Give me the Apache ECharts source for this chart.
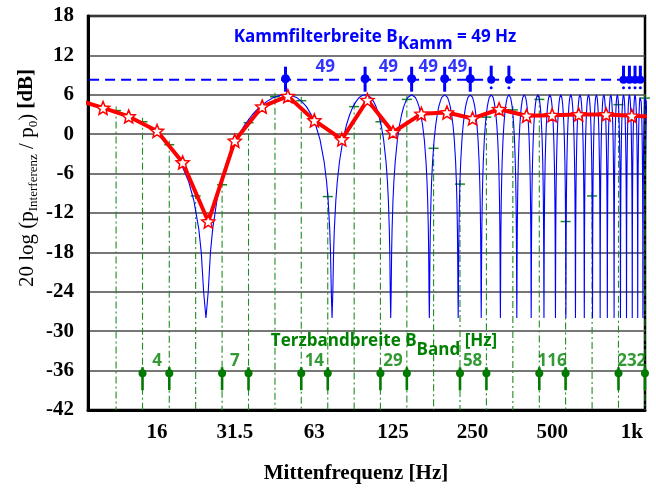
<!DOCTYPE html>
<html><head><meta charset="utf-8">
<script src="https://cdn.jsdelivr.net/npm/echarts@6/dist/echarts.min.js"></script>
<style>html,body{margin:0;padding:0;background:#fff}#c{width:656px;height:488px}</style>
</head><body><div id="c"></div>
<script>
// ---------- data ----------
const tickFreqsHz = [16, 31.5, 63, 125, 250, 500, 1000];
const tickLabels = ['16', '31.5', '63', '125', '250', '500', '1k'];

// third-octave band mean level (red line, stars); outer points continue past the plot edges
const terzCentersHz = [8, 10, 12.5, 16, 20, 25, 31.5, 40, 50, 63, 80, 100, 125, 160, 200, 250, 315, 400, 500, 630, 800, 1000, 1250];
const terzMeanDb   = [5.2, 4.0, 2.7, 0.5, -4.3, -13.3, -1.0, 4.2, 5.8, 2.1, -0.8, 5.2, 0.3, 3.1, 3.3, 2.4, 3.8, 2.8, 2.9, 3.0, 3.0, 2.8, 2.6];

// comb filter (blue): peaks every 49 Hz, lobe profile
const combPeaksHz = [0, 49, 98, 147, 196, 245, 294, 343, 392, 441, 490, 539, 588, 637, 686, 735, 784, 833, 882, 931, 980, 1029, 1078, 1127];
const combSpacingHz = 49;
const lobeOffset = [-0.5, -0.49, -0.48, -0.47, -0.45, -0.43, -0.4, -0.35, -0.3, -0.25, -0.2, -0.15, -0.1, -0.05, 0,
                    0.05, 0.1, 0.15, 0.2, 0.25, 0.3, 0.35, 0.4, 0.43, 0.45, 0.47, 0.48, 0.49, 0.5];
const lobeDb     = [-28, -24, -18, -14.5, -10.1, -7.2, -4.2, -0.8, 1.4, 3.0, 4.2, 5.0, 5.6, 5.9, 6.0,
                    5.9, 5.6, 5.0, 4.2, 3.0, 1.4, -0.8, -4.2, -7.2, -10.1, -14.5, -18, -24, -28];

// third-octave band edges (green dash-dot stems) and comb level at each edge
const terzEdgesHz = [11.2, 14.1, 17.8, 22.4, 28.2, 35.5, 44.7, 56.2, 70.8, 89.1, 112, 141, 178, 224, 282, 355, 447, 562, 708, 891, 1122];
const edgeCombDb  = [3.6, 1.9, -1.6, -9.4, -7.7, 1.75, 5.7, 5.1, -9.5, 4.2, 1.9, 5.3, -2.15, -7.6, 2.6, 3.7, 5.3, -13.3, -9.4, 4.5, 5.5];

// octave bands with bandwidth markers
const bandEdgesLoHz = [14.1, 28.2, 56.2, 112, 224, 447, 891];
const bandEdgesHiHz = [17.8, 35.5, 70.8, 141, 282, 562, 1122];
const bandCentersHz = [16, 31.5, 63, 125, 250, 500, 1000];
const bandWidthLabels = ['4', '7', '14', '29', '58', '116', '232'];
const bandMarkerDb = -36.4;
const bandLabelDb = -34.5;

// comb peak markers on the dashed line
const combLevelDb = 8.3;
const combLineHz = [7.7, 1225];
const combMarkersA = [49, 98, 147, 196, 245];
const combMarkersB = [294, 343, 931, 980, 1029, 1078];
const combLabelDb = 10.2;
const combLabelText = '49';

// ---------- helpers ----------
const toX = f => 3 * Math.log2(f / 1000);
const Y_MIN = -42, Y_MAX = 18;

const combData = [];
combPeaksHz.forEach(p => {
  lobeOffset.forEach((o, i) => {
    const f = p + o * combSpacingHz;
    if (f > 0) combData.push([toX(f), lobeDb[i]]);
  });
});
const redData = terzCentersHz.map((f, i) => [toX(f), terzMeanDb[i]]);
const stemData = terzEdgesHz.map((f, i) => [toX(f), edgeCombDb[i]]);
const bandMarkData = [];
bandEdgesLoHz.forEach((f, i) => { bandMarkData.push([toX(f), bandMarkerDb]); bandMarkData.push([toX(bandEdgesHiHz[i]), bandMarkerDb]); });
const bandLabelData = bandCentersHz.map((f, i) => ({ value: [toX(f), bandLabelDb], name: bandWidthLabels[i] }));
const combLabelData = [];
for (let i = 0; i < combMarkersA.length - 1; i++) {
  combLabelData.push({ value: [toX(Math.sqrt(combMarkersA[i] * combMarkersA[i + 1])), combLabelDb], name: combLabelText });
}

const STAR = 'path://M10 0 L12.65 6.36 L19.51 6.91 L14.28 11.39 L15.88 18.09 L10 14.5 L4.12 18.09 L5.72 11.39 L0.49 6.91 L7.35 6.36 Z';
const BLUE = '#0000ff', GREEN = '#008000', STEM = '#228b22';
const SERIF = 'Liberation Serif', SANS = 'Open Sans';

const chart = echarts.init(document.getElementById('c'), null, { renderer: 'canvas' });
chart.setOption({
  animation: false,
  backgroundColor: '#fff',
  grid: { left: 88, right: 11, top: 16, bottom: 78, show: true, borderColor: '#000', borderWidth: 2.5, backgroundColor: 'transparent' },
  xAxis: {
    type: 'value', min: -20.5, max: 0.5,
    axisLine: { show: true, onZero: false, lineStyle: { color: '#000', width: 3 } },
    axisTick: { show: false },
    splitLine: { show: false },
    axisLabel: {
      customValues: tickFreqsHz.map(toX),
      margin: 12, color: '#000', fontFamily: SERIF, fontWeight: 'bold', fontSize: 21,
      formatter: v => {
        let best = 0, bd = 1e9;
        tickFreqsHz.forEach((f, i) => { const d = Math.abs(toX(f) - v); if (d < bd) { bd = d; best = i; } });
        return tickLabels[best];
      }
    }
  },
  yAxis: {
    type: 'value', min: Y_MIN, max: Y_MAX, interval: 6,
    axisLine: { show: true, onZero: false, lineStyle: { color: '#000', width: 3 } },
    axisTick: { show: false },
    splitLine: { show: true, lineStyle: { color: '#4a4a4a', width: 1.5 } },
    axisLabel: { margin: 14, color: '#000', fontFamily: SERIF, fontWeight: 'bold', fontSize: 21 }
  },
  series: [
    { // green dash-dot stems with caps
      type: 'custom', z: 1, data: stemData,
      renderItem: (params, api) => {
        const top = api.coord([api.value(0), api.value(1)]);
        const bot = api.coord([api.value(0), Y_MIN]);
        return { type: 'group', children: [
          { type: 'line', shape: { x1: top[0], y1: top[1] - 4, x2: bot[0], y2: bot[1] }, style: { stroke: STEM, lineWidth: 1.1, lineDash: [7, 3, 2, 3] } },
          { type: 'line', shape: { x1: top[0] - 5, y1: top[1], x2: top[0] + 5, y2: top[1] }, style: { stroke: '#1a8a1a', lineWidth: 1.5 } }
        ] };
      }
    },
    { // comb filter curve
      type: 'line', z: 2, data: combData, showSymbol: false, clip: true,
      lineStyle: { color: BLUE, width: 1.1 }
    },
    { // third-octave mean
      type: 'line', z: 5, data: redData, clip: true,
      symbol: STAR, symbolSize: 13,
      lineStyle: { color: '#ff0000', width: 4 },
      itemStyle: { color: '#ffffff', borderColor: '#ff0000', borderWidth: 1.5 }
    },
    { // dashed comb level line
      type: 'line', z: 3, clip: false, showSymbol: false,
      data: combLineHz.map(f => [toX(f), combLevelDb]),
      lineStyle: { color: BLUE, width: 2, type: [10, 6] }
    },
    { // comb markers type A
      type: 'custom', z: 6, data: combMarkersA.map(f => [toX(f), combLevelDb]),
      renderItem: (params, api) => {
        const p = api.coord([api.value(0), api.value(1)]);
        return { type: 'group', children: [
          { type: 'rect', shape: { x: p[0] - 1.5, y: p[1] - 13, width: 3, height: 25 }, style: { fill: BLUE } },
          { type: 'circle', shape: { cx: p[0], cy: p[1] - 1, r: 4.5 }, style: { fill: BLUE } }
        ] };
      }
    },
    { // comb markers type B
      type: 'custom', z: 6, data: combMarkersB.map(f => [toX(f), combLevelDb]),
      renderItem: (params, api) => {
        const p = api.coord([api.value(0), api.value(1)]);
        return { type: 'group', children: [
          { type: 'rect', shape: { x: p[0] - 1.5, y: p[1] - 14, width: 3, height: 12 }, style: { fill: BLUE } },
          { type: 'circle', shape: { cx: p[0], cy: p[1], r: 4 }, style: { fill: BLUE } },
          { type: 'circle', shape: { cx: p[0], cy: p[1] + 8, r: 1.5 }, style: { fill: BLUE } }
        ] };
      }
    },
    { // "49" labels
      type: 'scatter', z: 7, data: combLabelData, symbolSize: 0,
      label: { show: true, position: 'inside', formatter: p => p.name, color: BLUE, fontFamily: SANS, fontWeight: 'bold', fontSize: 17 }
    },
    { // band edge markers
      type: 'custom', z: 6, data: bandMarkData,
      renderItem: (params, api) => {
        const p = api.coord([api.value(0), api.value(1)]);
        return { type: 'group', children: [
          { type: 'rect', shape: { x: p[0] - 1.3, y: p[1] - 6, width: 2.6, height: 23 }, style: { fill: '#007a00' } },
          { type: 'circle', shape: { cx: p[0], cy: p[1], r: 4 }, style: { fill: '#007a00' } }
        ] };
      }
    },
    { // band width labels
      type: 'scatter', z: 7, data: bandLabelData, symbolSize: 0,
      label: { show: true, position: 'inside', formatter: p => p.name, color: GREEN, fontFamily: SANS, fontWeight: 'bold', fontSize: 17 }
    }
  ],
  graphic: [
    { type: 'text', x: 375, y: 37, z: 10, style: {
        text: '{a|Kammfilterbreite B}{s|Kamm}{a| = 49 Hz}', align: 'center', verticalAlign: 'middle',
        rich: { a: { fontFamily: SANS, fontWeight: 'bold', fontSize: 17, fill: BLUE },
                s: { fontFamily: SANS, fontWeight: 'bold', fontSize: 17, fill: BLUE, padding: [14, 0, 0, 0] } } } },
    { type: 'text', x: 384, y: 341, z: 10, style: {
        text: '{a|Terzbandbreite B}{s|Band}{a| [Hz]}', align: 'center', verticalAlign: 'middle',
        rich: { a: { fontFamily: SANS, fontWeight: 'bold', fontSize: 17, fill: GREEN },
                s: { fontFamily: SANS, fontWeight: 'bold', fontSize: 17, fill: GREEN, padding: [18, 0, 0, 0] } } } },
    { type: 'text', x: 356, y: 474, z: 10, style: {
        text: 'Mittenfrequenz [Hz]', align: 'center', verticalAlign: 'middle',
        fontFamily: SERIF, fontWeight: 'bold', fontSize: 21, fill: '#000' } },
    { type: 'text', x: 27, y: 178, rotation: Math.PI / 2, z: 10, style: {
        text: '{n|20 log (p}{s|Interferenz}{n| / p}{s|0}{n|)}{b| [dB]}', align: 'center', verticalAlign: 'middle',
        rich: { n: { fontFamily: SERIF, fontSize: 21, fill: '#000' },
                s: { fontFamily: SERIF, fontSize: 13, fill: '#000', padding: [14, 0, 0, 0] },
                b: { fontFamily: SERIF, fontSize: 21, fontWeight: 'bold', fill: '#000' } } } }
  ]
});
</script></body></html>
